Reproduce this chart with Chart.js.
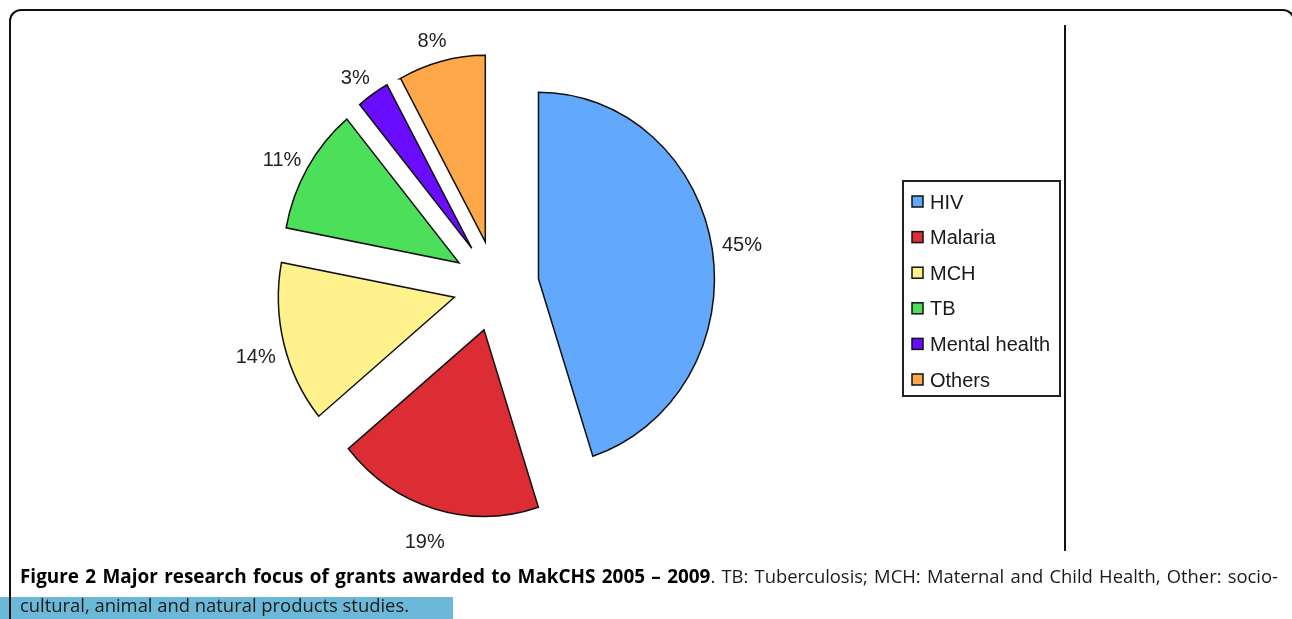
<!DOCTYPE html>
<html>
<head>
<meta charset="utf-8">
<script src="https://cdn.jsdelivr.net/npm/chart.js@4/dist/chart.umd.min.js"></script>
<style>
  html, body { margin: 0; padding: 0; background: #fff; }
  body { width: 1292px; height: 619px; position: relative; overflow: hidden; }
  #chart { position: absolute; left: 0; top: 0; }
  #frame { position: absolute; left: 9px; top: 9px; width: 1282px; height: 700px;
           border-top: 2px solid #111; border-left: 2px solid #111; border-right: 2px solid #111;
           border-radius: 12px 12px 0 0; z-index: 3; pointer-events: none; }
  #vline { position: absolute; left: 1064px; top: 25px; width: 2px; height: 526px; background: #111; z-index: 2; }
  #bluebar { position: absolute; left: 0; top: 597px; width: 453px; height: 22px; background: #6bb8d9; z-index: 1; }
  .cap { position: absolute; left: 20px; font-family: "Open Sans", sans-serif; font-size: 18.4px; line-height: 24px;
         color: #1a1a1a; white-space: nowrap; z-index: 2; transform-origin: 0 0; }
  #cap1 { top: 564px; }
  #cap2 { top: 593px; }
  b { font-weight: 700; color: #000; font-size: 18.9px; }
</style>
</head>
<body>
<canvas id="chart" width="1292" height="619"></canvas>
<div id="frame"></div>
<div id="vline"></div>
<div id="bluebar"></div>
<div class="cap" id="cap1"><b>Figure 2 Major research focus of grants awarded to MakCHS 2005 – 2009</b>. TB: Tuberculosis; MCH: Maternal and Child Health, Other: socio-</div>
<div class="cap" id="cap2">cultural, animal and natural products studies.</div>
<script>
const categories = ["HIV", "Malaria", "MCH", "TB", "Mental health", "Others"];
const percentValues = [45, 19, 14, 11, 3, 8];
const sliceColors = ["#62a8fd", "#dc2c34", "#fff28c", "#4ce05a", "#6a0cff", "#ffa849"];

const EXPLODE = 43;     // px each slice is pulled out along its bisector
const STRETCH_Y = 1.06; // the source pie is slightly taller than wide
const LABEL_DIST = 245;

function chartCenter(chart) {
  const ca = chart.chartArea;
  return { cx: (ca.left + ca.right) / 2, cy: (ca.top + ca.bottom) / 2 };
}

const explodePlugin = {
  id: "explode",
  afterDatasetsUpdate(chart) {
    const { cx, cy } = chartCenter(chart);
    chart.getDatasetMeta(0).data.forEach(arc => {
      const mid = (arc.startAngle + arc.endAngle) / 2;
      arc.x = cx + EXPLODE * Math.cos(mid);
      arc.y = cy + EXPLODE * Math.sin(mid);
    });
  },
  beforeDatasetsDraw(chart) {
    const { cy } = chartCenter(chart);
    const ctx = chart.ctx;
    ctx.save();
    ctx.translate(0, cy);
    ctx.scale(1, STRETCH_Y);
    ctx.translate(0, -cy);
  },
  afterDatasetsDraw(chart) {
    chart.ctx.restore();
  }
};

const sliceLabels = {
  id: "sliceLabels",
  afterDraw(chart) {
    const ctx = chart.ctx;
    const { cx, cy } = chartCenter(chart);
    const meta = chart.getDatasetMeta(0);
    ctx.save();
    ctx.font = '20px "Liberation Sans", Arial, sans-serif';
    ctx.fillStyle = "#222";
    ctx.textAlign = "center";
    ctx.textBaseline = "middle";
    meta.data.forEach((arc, i) => {
      const mid = (arc.startAngle + arc.endAngle) / 2;
      const right = Math.max(0, Math.cos(mid));
      ctx.fillText(percentValues[i] + "%",
        cx + LABEL_DIST * Math.cos(mid) - 3 + 7 * right,
        cy + STRETCH_Y * LABEL_DIST * Math.sin(mid) + 7 - 7 * right);
    });
    ctx.restore();
  }
};

const boxLegend = {
  id: "boxLegend",
  afterDraw(chart) {
    const ctx = chart.ctx;
    ctx.save();
    const bx = 903, by = 181, bw = 157, bh = 215;
    ctx.strokeStyle = "#222";
    ctx.lineWidth = 2;
    ctx.strokeRect(bx, by, bw, bh);
    ctx.font = '20px "Liberation Sans", Arial, sans-serif';
    ctx.textBaseline = "middle";
    ctx.textAlign = "left";
    chart.data.labels.forEach((lab, i) => {
      const cy = 202 + i * 35.6;
      ctx.fillStyle = chart.data.datasets[0].backgroundColor[i];
      ctx.fillRect(912, cy - 6, 11, 11);
      ctx.strokeStyle = "#111";
      ctx.lineWidth = 1.5;
      ctx.strokeRect(912, cy - 6, 11, 11);
      ctx.fillStyle = "#1a1a1a";
      ctx.fillText(lab, 930, cy + 1);
    });
    ctx.restore();
  }
};

new Chart(document.getElementById("chart"), {
  type: "pie",
  data: {
    labels: categories,
    datasets: [{
      data: percentValues,
      backgroundColor: sliceColors,
      borderColor: "#111",
      borderWidth: 1.5,
      borderJoinStyle: "miter",
      offset: 0
    }]
  },
  options: {
    responsive: false,
    devicePixelRatio: 1,
    animation: false,
    radius: 176,
    layout: { padding: { left: 0, right: 300, top: 0, bottom: 47 } },
    plugins: { legend: { display: false }, tooltip: { enabled: false } }
  },
  plugins: [explodePlugin, sliceLabels, boxLegend]
});

// fit caption line 1 to the justified width of the source (x 20 → 1278)
function fitLine(el, target, justify) {
  const w = el.getBoundingClientRect().width;
  const spaces = (el.textContent.match(/ /g) || []).length;
  if (w <= target) {
    if (justify && spaces) el.style.wordSpacing = ((target - w) / spaces) + "px";
  } else {
    el.style.transform = "scaleX(" + (target / w) + ")";
  }
}
fitLine(document.getElementById("cap1"), 1258, true);
fitLine(document.getElementById("cap2"), 390, false);
</script>
</body>
</html>
